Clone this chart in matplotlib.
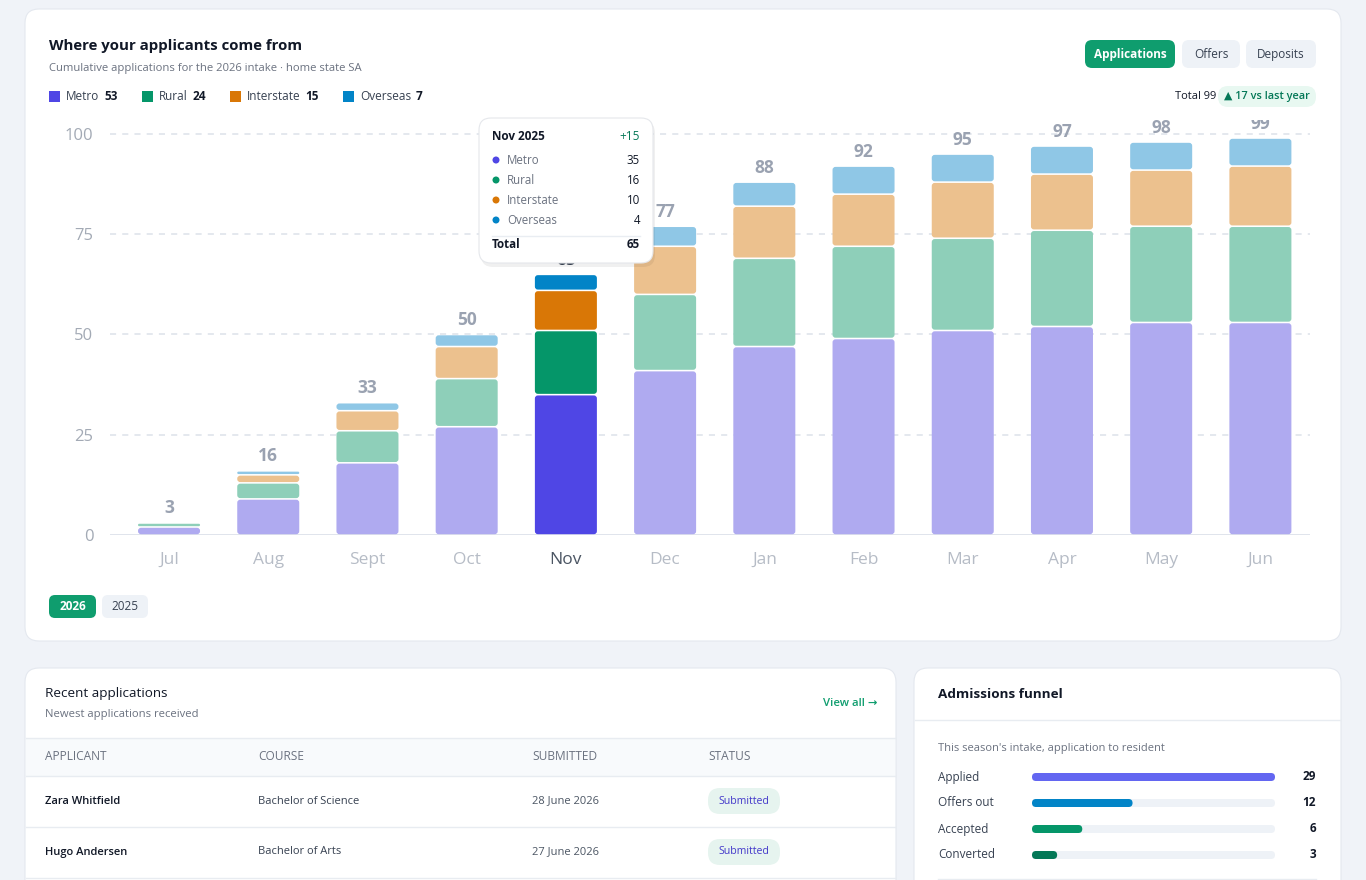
import matplotlib
matplotlib.use("Agg")
import matplotlib.pyplot as plt
from matplotlib.patches import FancyBboxPatch, Rectangle, Circle
import numpy as np

plt.rcParams['font.family'] = ['Open Sans', 'DejaVu Sans']

# ---- data ----
months = ["Jul", "Aug", "Sept", "Oct", "Nov", "Dec", "Jan", "Feb", "Mar", "Apr", "May", "Jun"]
metro = [2, 9, 18, 27, 35, 41, 47, 49, 51, 52, 53, 53]
rural = [1, 4, 8, 12, 16, 19, 22, 23, 23, 24, 24, 24]
interstate = [0, 2, 5, 8, 10, 12, 13, 13, 14, 14, 14, 15]
overseas = [0, 1, 2, 3, 4, 5, 6, 7, 7, 7, 7, 7]
series_names = ["Metro", "Rural", "Interstate", "Overseas"]
highlight = 4  # Nov
highlight_label = "Nov 2025"
yticks = [0, 25, 50, 75, 100]
last_year_diff = 17

funnel_labels = ["Applied", "Offers out", "Accepted", "Converted"]
funnel_values = [29, 12, 6, 3]

table_cols = ["APPLICANT", "COURSE", "SUBMITTED", "STATUS"]
applicants = ["Zara Whitfield", "Hugo Andersen"]
courses = ["Bachelor of Science", "Bachelor of Arts"]
submitted = ["28 June 2026", "27 June 2026"]
statuses = ["Submitted", "Submitted"]

# ---- styles ----
full_cols = ["#4f46e5", "#059669", "#d97706", "#0284c7"]
light_cols = ["#afaaf0", "#8ecfb9", "#ecc18e", "#8fc7e6"]
funnel_cols = ["#6366f1", "#0284c7", "#059669", "#047857"]
DARK = "#111827"
GRAY = "#6b7280"
GREEN = "#0f9d6e"

W, H = 1366, 880
fig = plt.figure(figsize=(W / 100, H / 100), dpi=100)
fig.patch.set_facecolor("#f0f3f8")

bg = fig.add_axes([0, 0, 1, 1], zorder=0)
bg.set_xlim(0, W)
bg.set_ylim(H, 0)
bg.axis("off")


def rbox(ax, x, y, w, h, r, fc, ec="none", lw=0, z=1, alpha=1):
    p = FancyBboxPatch((x, y), w, h, boxstyle=f"round,pad=0,rounding_size={r}",
                       fc=fc, ec=ec, lw=lw, zorder=z, alpha=alpha)
    ax.add_patch(p)
    return p


# cards
rbox(bg, 25, 9, 1316, 632, 14, "white", "#e4e8ef", 0.8)
rbox(bg, 25, 668, 871, 240, 14, "white", "#e4e8ef", 0.8)
rbox(bg, 914, 668, 427, 240, 14, "white", "#e4e8ef", 0.8)

# header
bg.text(49, 46, "Where your applicants come from", fontsize=10.8, fontweight="bold", color=DARK, va="center")
bg.text(49, 68, "Cumulative applications for the 2026 intake · home state SA", fontsize=8.1, color=GRAY, va="center")

renderer = fig.canvas.get_renderer()
totals_now = [metro[-1], rural[-1], interstate[-1], overseas[-1]]
lx = 49
for name, val, c in zip(series_names, totals_now, full_cols):
    bg.add_patch(Rectangle((lx, 91), 11, 11, fc=c, ec="none"))
    t = bg.text(lx + 17, 96.5, name, fontsize=8.5, color="#374151", va="center")
    bb = t.get_window_extent(renderer=renderer)
    t2 = bg.text(bb.x1 + 5, 96.5, str(val), fontsize=8.5, fontweight="bold", color=DARK, va="center")
    bb2 = t2.get_window_extent(renderer=renderer)
    lx = bb2.x1 + 24

# buttons
for label, x0, w, active in [("Applications", 1085, 90, True), ("Offers", 1182, 58, False), ("Deposits", 1246, 70, False)]:
    rbox(bg, x0, 40, w, 28, 7, GREEN if active else "#eef2f7")
    bg.text(x0 + w / 2, 54.5, label, fontsize=8.5, fontweight="bold" if active else "normal",
            color="white" if active else "#374151", ha="center", va="center")

grand_total = sum(totals_now)
rbox(bg, 1218, 86, 98, 21, 10, "#e8f8f1")
bg.text(1267, 96.5, f"▲ {last_year_diff} vs last year", fontsize=7.8, fontweight="semibold", color="#047857",
        ha="center", va="center")
bg.text(1216, 96.5, f"Total {grand_total}", fontsize=8, color=DARK, ha="right", va="center")

# year pills
rbox(bg, 49, 595, 47, 23, 6, GREEN)
bg.text(72.5, 606.5, "2026", fontsize=8.5, fontweight="bold", color="white", ha="center", va="center")
rbox(bg, 102, 595, 46, 23, 6, "#eef2f7")
bg.text(125, 606.5, "2025", fontsize=8.5, color="#374151", ha="center", va="center")

# ---- chart ----
L, R, T, B = 110, 1310, 120, 535
ax = fig.add_axes([L / W, 1 - B / H, (R - L) / W, (B - T) / H], zorder=1)
ax.patch.set_alpha(0)
x = np.arange(len(months))
x_lo, x_hi = -0.595, 11.5
y_hi = 100 * (B - T) / (B - 134)
ax.set_xlim(x_lo, x_hi)
ax.set_ylim(0, y_hi)

px_x = (R - L) / (x_hi - x_lo)   # pixels per x unit
px_y = (B - T) / y_hi            # pixels per y unit
aspect = px_x / px_y
bar_w = 0.625
gap = 1.6 / px_y

stack = [metro, rural, interstate, overseas]
bottom = np.zeros(len(months))
for k, vals in enumerate(stack):
    for i, v in enumerate(vals):
        if v <= 0:
            continue
        y0 = bottom[i] + gap / 2
        h = v - gap
        r_px = min(3.0, h * px_y / 2)
        p = FancyBboxPatch((x[i] - bar_w / 2, y0), bar_w, h,
                           boxstyle=f"round,pad=0,rounding_size={r_px / px_x}",
                           mutation_aspect=aspect,
                           fc=full_cols[k] if i == highlight else light_cols[k], ec="none", zorder=3)
        ax.add_patch(p)
    bottom = bottom + np.array(vals)

totals = bottom
for i, tot in enumerate(totals):
    ax.text(x[i], tot + 5.5 / px_y, f"{int(tot)}", ha="center", va="bottom", fontsize=12.5,
            fontweight="bold", color="#374151" if i == highlight else "#9aa2b1", zorder=4, clip_on=True)

ax.set_yticks(yticks)
ax.set_yticklabels([str(v) for v in yticks], fontsize=12, color="#a3aab5")
for yv in yticks[1:]:
    ax.axhline(yv, color="#dde2ea", lw=1.1, ls=(0, (4, 4)), zorder=1)
ax.axhline(0, color="#dde2ea", lw=1.3, zorder=2)
ax.set_xticks(x)
ax.set_xticklabels(months, fontsize=12.5)
for i, lab in enumerate(ax.get_xticklabels()):
    lab.set_color("#4b5563" if i == highlight else "#b6bcc6")
ax.tick_params(length=0, pad=12)
ax.tick_params(axis="y", pad=12)
for s in ax.spines.values():
    s.set_visible(False)

# ---- tooltip overlay ----
ov = fig.add_axes([0, 0, 1, 1], zorder=2)
ov.set_xlim(0, W)
ov.set_ylim(H, 0)
ov.axis("off")
rbox(ov, 481, 121, 174, 146, 12, "#000000", alpha=0.06, z=1)
rbox(ov, 479, 118, 174, 145, 12, "white", "#e5e7eb", 0.8, z=2)
hv = [s[highlight] for s in stack]
diff = int(totals[highlight] - totals[highlight - 1])
ov.text(492, 136, highlight_label, fontsize=8.5, fontweight="bold", color=DARK, va="center", zorder=3)
ov.text(640, 136, f"+{diff}", fontsize=8.5, color="#047857", ha="right", va="center", zorder=3)
for j, (name, v, c) in enumerate(zip(series_names, hv, full_cols)):
    yy = 160 + 20 * j
    ov.add_patch(Circle((496, yy), 3.5, fc=c, ec="none", zorder=3))
    ov.text(507, yy, name, fontsize=8.3, color=GRAY, va="center", zorder=3)
    ov.text(640, yy, str(v), fontsize=8.3, color=DARK, ha="right", va="center", zorder=3)
ov.plot([492, 640], [236, 236], color="#e9edf2", lw=1, zorder=3)
ov.text(492, 245, "Total", fontsize=8.3, fontweight="bold", color=DARK, va="center", zorder=3)
ov.text(640, 245, str(int(totals[highlight])), fontsize=8.3, fontweight="bold", color=DARK, ha="right",
        va="center", zorder=3)

# ---- recent applications card ----
bg.text(45, 694, "Recent applications", fontsize=9.7, color=DARK, va="center")
bg.text(45, 715, "Newest applications received", fontsize=8.1, color=GRAY, va="center")
bg.text(877, 704, "View all →", fontsize=8.2, fontweight="semibold", color="#0f9d6e", ha="right", va="center")
bg.add_patch(Rectangle((26, 738), 869, 38, fc="#f8fafc", ec="none"))
for yl in [738, 776, 827, 878]:
    bg.plot([26, 895], [yl, yl], color="#e8ecf1", lw=1)
col_x = [45, 258, 532, 708]
for cx, name in zip(col_x, table_cols):
    bg.text(cx, 757, name, fontsize=8.6, color=GRAY, va="center")
for r, (a, c, d, s) in enumerate(zip(applicants, courses, submitted, statuses)):
    yy = 801 + 51 * r
    bg.text(col_x[0], yy, a, fontsize=8, fontweight="semibold", color=DARK, va="center")
    bg.text(col_x[1], yy, c, fontsize=8, color="#374151", va="center")
    bg.text(col_x[2], yy, d, fontsize=8, color="#4b5563", va="center")
    rbox(bg, 708, yy - 13, 72, 26, 12, "#e6f4ef")
    bg.text(744, yy, s, fontsize=7.6, color="#4338ca", ha="center", va="center")

# ---- funnel card ----
bg.text(938, 694, "Admissions funnel", fontsize=9.7, fontweight="bold", color=DARK, va="center")
bg.plot([915, 1340], [720, 720], color="#e8ecf1", lw=1)
bg.text(938, 749, "This season's intake, application to resident", fontsize=8, color=GRAY, va="center")
fmax = max(funnel_values)
tx0, tw = 1032, 243
for j, (lab, v, c) in enumerate(zip(funnel_labels, funnel_values, funnel_cols)):
    yy = 777 + 26 * j
    bg.text(938, yy, lab, fontsize=8.5, color="#374151", va="center")
    rbox(bg, tx0, yy - 4, tw, 8, 4, "#eef2f7")
    rbox(bg, tx0, yy - 4, tw * v / fmax, 8, 4, c)
    bg.text(1316, yy, str(v), fontsize=8.5, fontweight="bold", color=DARK, ha="right", va="center")
bg.plot([938, 1316], [879, 879], color="#e8ecf1", lw=1)

fig.savefig("out.png", dpi=100, facecolor=fig.get_facecolor())
